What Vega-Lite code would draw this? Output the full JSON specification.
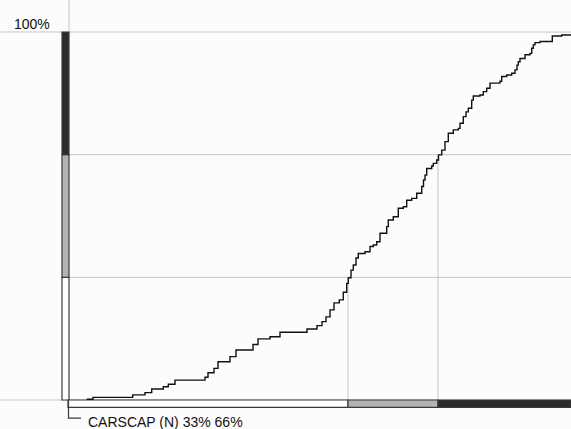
{
  "$schema": "https://vega.github.io/schema/vega-lite/v6.json",
  "width": 571,
  "height": 429,
  "padding": 0,
  "autosize": {"type": "none"},
  "background": "#fcfcfc",
  "config": {"view": {"stroke": null}, "axis": {"disable": true}, "legend": {"disable": true}},
  "datasets": {
    "curve": [
      {"v": 16.7, "p": 0.2}, {"v": 23, "p": 0.7}, {"v": 62.7, "p": 1.4}, {"v": 75, "p": 2.0},
      {"v": 81.7, "p": 3.0}, {"v": 93.3, "p": 3.6}, {"v": 98.3, "p": 4.3}, {"v": 105, "p": 5.4},
      {"v": 135, "p": 6.2}, {"v": 138, "p": 7.4}, {"v": 144, "p": 8.6}, {"v": 148, "p": 10.4},
      {"v": 160, "p": 11.8}, {"v": 166, "p": 13.6}, {"v": 183, "p": 15.1}, {"v": 188, "p": 16.6},
      {"v": 200, "p": 17.2}, {"v": 210, "p": 18.4}, {"v": 237, "p": 19.3}, {"v": 247, "p": 20.2},
      {"v": 252, "p": 21.3}, {"v": 256, "p": 22.6}, {"v": 260, "p": 24.5}, {"v": 264, "p": 26.4},
      {"v": 269.3, "p": 27.2}, {"v": 273.3, "p": 29.3}, {"v": 276.7, "p": 31.7}, {"v": 278.3, "p": 33.2},
      {"v": 281, "p": 35.3}, {"v": 283.3, "p": 36.7}, {"v": 286, "p": 38.6}, {"v": 288.3, "p": 39.8},
      {"v": 295, "p": 40.3}, {"v": 300, "p": 41.7}, {"v": 303.3, "p": 42.1}, {"v": 306.7, "p": 43.0},
      {"v": 310, "p": 45.3}, {"v": 316.7, "p": 47.1}, {"v": 318.3, "p": 48.9}, {"v": 323.3, "p": 49.8},
      {"v": 328.3, "p": 52.1}, {"v": 333.3, "p": 52.5}, {"v": 336.7, "p": 54.3}, {"v": 341.7, "p": 54.8},
      {"v": 346.7, "p": 56.2}, {"v": 351.7, "p": 58.0}, {"v": 353.5, "p": 59.8}, {"v": 355, "p": 61.1},
      {"v": 356.7, "p": 62.9}, {"v": 361.7, "p": 63.6}, {"v": 363.3, "p": 64.3}, {"v": 366.7, "p": 65.2},
      {"v": 368.5, "p": 66.6}, {"v": 371.7, "p": 67.9}, {"v": 375, "p": 70.2}, {"v": 378.3, "p": 72.5},
      {"v": 383.3, "p": 73.4}, {"v": 388.3, "p": 73.8}, {"v": 390, "p": 75.2}, {"v": 393.3, "p": 77.0},
      {"v": 396, "p": 78.3}, {"v": 398.3, "p": 79.3}, {"v": 401.7, "p": 81.5}, {"v": 403.3, "p": 82.6},
      {"v": 410, "p": 82.9}, {"v": 413.3, "p": 83.8}, {"v": 416.7, "p": 84.7}, {"v": 420, "p": 86.1},
      {"v": 430, "p": 86.6}, {"v": 431.7, "p": 87.9}, {"v": 436.7, "p": 88.3}, {"v": 441.7, "p": 88.8},
      {"v": 445, "p": 89.7}, {"v": 447, "p": 91.0}, {"v": 448.3, "p": 91.9}, {"v": 450, "p": 92.8},
      {"v": 455, "p": 93.8}, {"v": 460, "p": 94.2}, {"v": 461.7, "p": 95.6}, {"v": 463.3, "p": 96.5},
      {"v": 465, "p": 97.1}, {"v": 470, "p": 97.4}, {"v": 482.3, "p": 98.9}, {"v": 491.7, "p": 99.2},
      {"v": 501, "p": 99.4}
    ],
    "grid": [
      {"x1": -70, "x2": 501, "y1": 100, "y2": 100},
      {"x1": -70, "x2": 501, "y1": 0, "y2": 0},
      {"x1": 0, "x2": 501, "y1": 33.33, "y2": 33.33},
      {"x1": 0, "x2": 501, "y1": 66.67, "y2": 66.67},
      {"x1": -1, "x2": -1, "y1": 100, "y2": 108.7},
      {"x1": 278, "x2": 278, "y1": 0, "y2": 33.33},
      {"x1": 368, "x2": 368, "y1": 0, "y2": 66.67}
    ],
    "bars": [
      {"x1": -8, "x2": -1, "y1": 0, "y2": 33.33, "seg": "low"},
      {"x1": -8, "x2": -1, "y1": 33.33, "y2": 66.67, "seg": "mid"},
      {"x1": -8, "x2": -1, "y1": 66.67, "y2": 100, "seg": "high"},
      {"x1": -2, "x2": 278, "y1": 0, "y2": -2.0, "seg": "low"},
      {"x1": 278, "x2": 368, "y1": 0, "y2": -2.0, "seg": "mid"},
      {"x1": 368, "x2": 501, "y1": 0, "y2": -2.0, "seg": "high"}
    ],
    "bracket": [
      {"i": 1, "v": -1.5, "p": 0},
      {"i": 2, "v": -1.5, "p": -4.9},
      {"i": 3, "v": 11, "p": -4.9}
    ],
    "labels": [
      {"v": -56, "p": 100.95, "t": "100%"},
      {"v": 18, "p": -7.34, "t": "CARSCAP (N) 33% 66%"}
    ]
  },
  "layer": [
    {
      "data": {"name": "grid"},
      "mark": {"type": "rule", "color": "#c4c4c4", "strokeWidth": 1},
      "encoding": {
        "x": {"field": "x1", "type": "quantitative", "scale": {"domain": [0, 501], "range": [70, 571], "nice": false, "zero": false}},
        "x2": {"field": "x2"},
        "y": {"field": "y1", "type": "quantitative", "scale": {"domain": [0, 100], "range": [400, 32], "nice": false, "zero": false}},
        "y2": {"field": "y2"}
      }
    },
    {
      "data": {"name": "bars"},
      "mark": {"type": "rect", "stroke": "#3a3a3a", "strokeWidth": 1.2},
      "encoding": {
        "x": {"field": "x1", "type": "quantitative"},
        "x2": {"field": "x2"},
        "y": {"field": "y1", "type": "quantitative"},
        "y2": {"field": "y2"},
        "color": {"field": "seg", "type": "nominal", "scale": {"domain": ["low", "mid", "high"], "range": ["#ffffff", "#b3b3b3", "#2b2b2b"]}}
      }
    },
    {
      "data": {"name": "bracket"},
      "mark": {"type": "line", "color": "#3a3a3a", "strokeWidth": 1.2},
      "encoding": {
        "x": {"field": "v", "type": "quantitative"},
        "y": {"field": "p", "type": "quantitative"},
        "order": {"field": "i", "type": "quantitative"}
      }
    },
    {
      "data": {"name": "curve"},
      "mark": {"type": "line", "interpolate": "step-after", "color": "#111111", "strokeWidth": 1.4},
      "encoding": {
        "x": {"field": "v", "type": "quantitative"},
        "y": {"field": "p", "type": "quantitative"}
      }
    },
    {
      "data": {"name": "labels"},
      "mark": {"type": "text", "align": "left", "baseline": "alphabetic", "font": "Liberation Sans", "fontSize": 14, "color": "#111111"},
      "encoding": {
        "x": {"field": "v", "type": "quantitative"},
        "y": {"field": "p", "type": "quantitative"},
        "text": {"field": "t", "type": "nominal"}
      }
    }
  ]
}
